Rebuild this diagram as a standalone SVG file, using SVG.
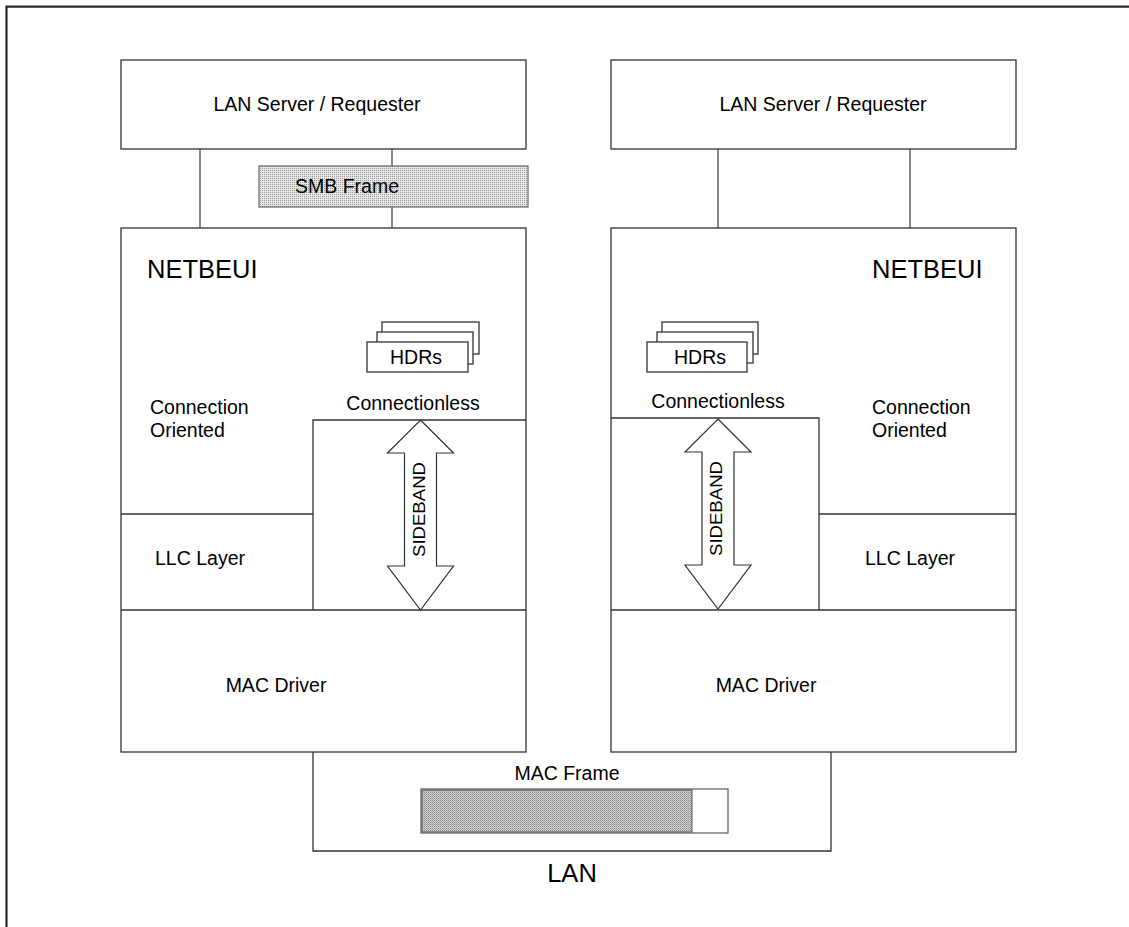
<svg xmlns="http://www.w3.org/2000/svg" width="1129" height="927" viewBox="0 0 1129 927">
  <style>
    .box { fill: #ffffff; stroke: #333333; stroke-width: 1.3; }
    .ln { fill: none; stroke: #333333; stroke-width: 1.3; }
    .conn { fill: none; stroke: #888888; stroke-width: 2; }
    .frame { fill: none; stroke: #2a2a2a; stroke-width: 2.2; }
    .arrow { fill: #ffffff; stroke: #333333; stroke-width: 1.2; stroke-linejoin: miter; }
    text { font-family: "Liberation Sans", Arial, sans-serif; fill: #000000; }
    .t { font-size: 19.5px; }
    .tc { font-size: 19.5px; text-anchor: middle; }
    .big { font-size: 25.5px; }
  </style>
  <defs>
    <pattern id="stipple" width="2" height="2" patternUnits="userSpaceOnUse">
      <rect width="2" height="2" fill="#e6e6e6"/>
      <rect width="1" height="1" fill="#9a9a9a"/>
    </pattern>
    <pattern id="stippleDark" width="2" height="2" patternUnits="userSpaceOnUse">
      <rect width="2" height="2" fill="#d0d0d0"/>
      <rect width="1" height="1" fill="#8a8a8a"/>
      <rect x="1" y="1" width="1" height="1" fill="#a8a8a8"/>
    </pattern>
    <!-- double-headed block arrow, centred on x=0, from y=0 (top tip) to y=190 (bottom tip) -->
    <path id="sideband" d="M0,0 L33,33 L16,33 L16,146 L33,146 L0,190 L-33,146 L-16,146 L-16,33 L-33,33 Z"/>
  </defs>

  <rect width="1129" height="927" fill="#ffffff"/>

  <!-- page frame (top and left rules) -->
  <path class="frame" d="M6.5,927 L6.5,6.7 L1129,6.7"/>

  <!-- connectors between the application boxes and NETBEUI -->
  <g id="connectors">
    <line class="conn" x1="200" y1="149" x2="200" y2="228"/>
    <line class="conn" x1="392" y1="149" x2="392" y2="166"/>
    <line class="conn" x1="392" y1="207" x2="392" y2="228"/>
    <line class="conn" x1="718" y1="149" x2="718" y2="228"/>
    <line class="conn" x1="910" y1="149" x2="910" y2="228"/>
  </g>

  <!-- left station -->
  <g id="server-left">
    <rect class="box" x="121" y="60" width="405" height="89"/>
    <text class="tc" x="317" y="111">LAN Server / Requester</text>
  </g>

  <g id="smb-frame">
    <rect x="259" y="166" width="269" height="41" fill="url(#stipple)" stroke="#666666" stroke-width="1.2"/>
    <text class="tc" x="347" y="193">SMB Frame</text>
  </g>

  <g id="netbeui-left">
    <rect class="box" x="121" y="228" width="405" height="524"/>
    <text class="big" x="147" y="278">NETBEUI</text>
    <!-- connectionless region -->
    <path class="ln" d="M526,420 L313,420 L313,610"/>
    <!-- LLC layer -->
    <line class="ln" x1="121" y1="514" x2="313" y2="514"/>
    <!-- MAC driver -->
    <line class="ln" x1="121" y1="610" x2="526" y2="610"/>
    <text class="t" x="150" y="414">Connection</text>
    <text class="t" x="150" y="437">Oriented</text>
    <text class="tc" x="413" y="410">Connectionless</text>
    <text class="tc" x="200" y="565">LLC Layer</text>
    <text class="tc" x="276" y="692">MAC Driver</text>
  </g>

  <g id="hdrs-left">
    <rect class="box" x="382" y="322" width="97" height="32"/>
    <rect class="box" x="377" y="332" width="96" height="32"/>
    <rect class="box" x="367" y="342" width="101" height="30"/>
    <text class="tc" x="416" y="364">HDRs</text>
  </g>

  <g id="sideband-left">
    <use href="#sideband" x="420.5" y="420" class="arrow"/>
    <text font-size="16" textLength="95" lengthAdjust="spacingAndGlyphs" transform="translate(424.5,557) rotate(-90)">SIDEBAND</text>
  </g>

  <!-- right station -->
  <g id="server-right">
    <rect class="box" x="611" y="60" width="405" height="89"/>
    <text class="tc" x="823" y="111">LAN Server / Requester</text>
  </g>

  <g id="netbeui-right">
    <rect class="box" x="611" y="228" width="405" height="524"/>
    <text class="big" x="872" y="278">NETBEUI</text>
    <path class="ln" d="M611,418 L819,418 L819,610"/>
    <line class="ln" x1="819" y1="514" x2="1016" y2="514"/>
    <line class="ln" x1="611" y1="610" x2="1016" y2="610"/>
    <text class="t" x="872" y="414">Connection</text>
    <text class="t" x="872" y="437">Oriented</text>
    <text class="tc" x="718" y="408">Connectionless</text>
    <text class="tc" x="910" y="565">LLC Layer</text>
    <text class="tc" x="766" y="692">MAC Driver</text>
  </g>

  <g id="hdrs-right">
    <rect class="box" x="662" y="322" width="96" height="32"/>
    <rect class="box" x="657" y="332" width="96" height="31"/>
    <rect class="box" x="647" y="342" width="100" height="30"/>
    <text class="tc" x="700" y="364">HDRs</text>
  </g>

  <g id="sideband-right">
    <use href="#sideband" x="718" y="419" class="arrow"/>
    <text font-size="16" textLength="95" lengthAdjust="spacingAndGlyphs" transform="translate(722,556) rotate(-90)">SIDEBAND</text>
  </g>

  <!-- LAN segment joining both stations -->
  <g id="lan">
    <path class="ln" d="M313,752 L313,851 L831,851 L831,752"/>
    <text class="tc" x="567" y="780">MAC Frame</text>
    <rect x="421" y="789" width="307" height="44" fill="#ffffff" stroke="#666666" stroke-width="1.3"/>
    <rect x="422" y="790" width="270" height="42" fill="url(#stippleDark)" stroke="#555555" stroke-width="1"/>
    <text class="big" x="572" y="882" text-anchor="middle">LAN</text>
  </g>
</svg>
